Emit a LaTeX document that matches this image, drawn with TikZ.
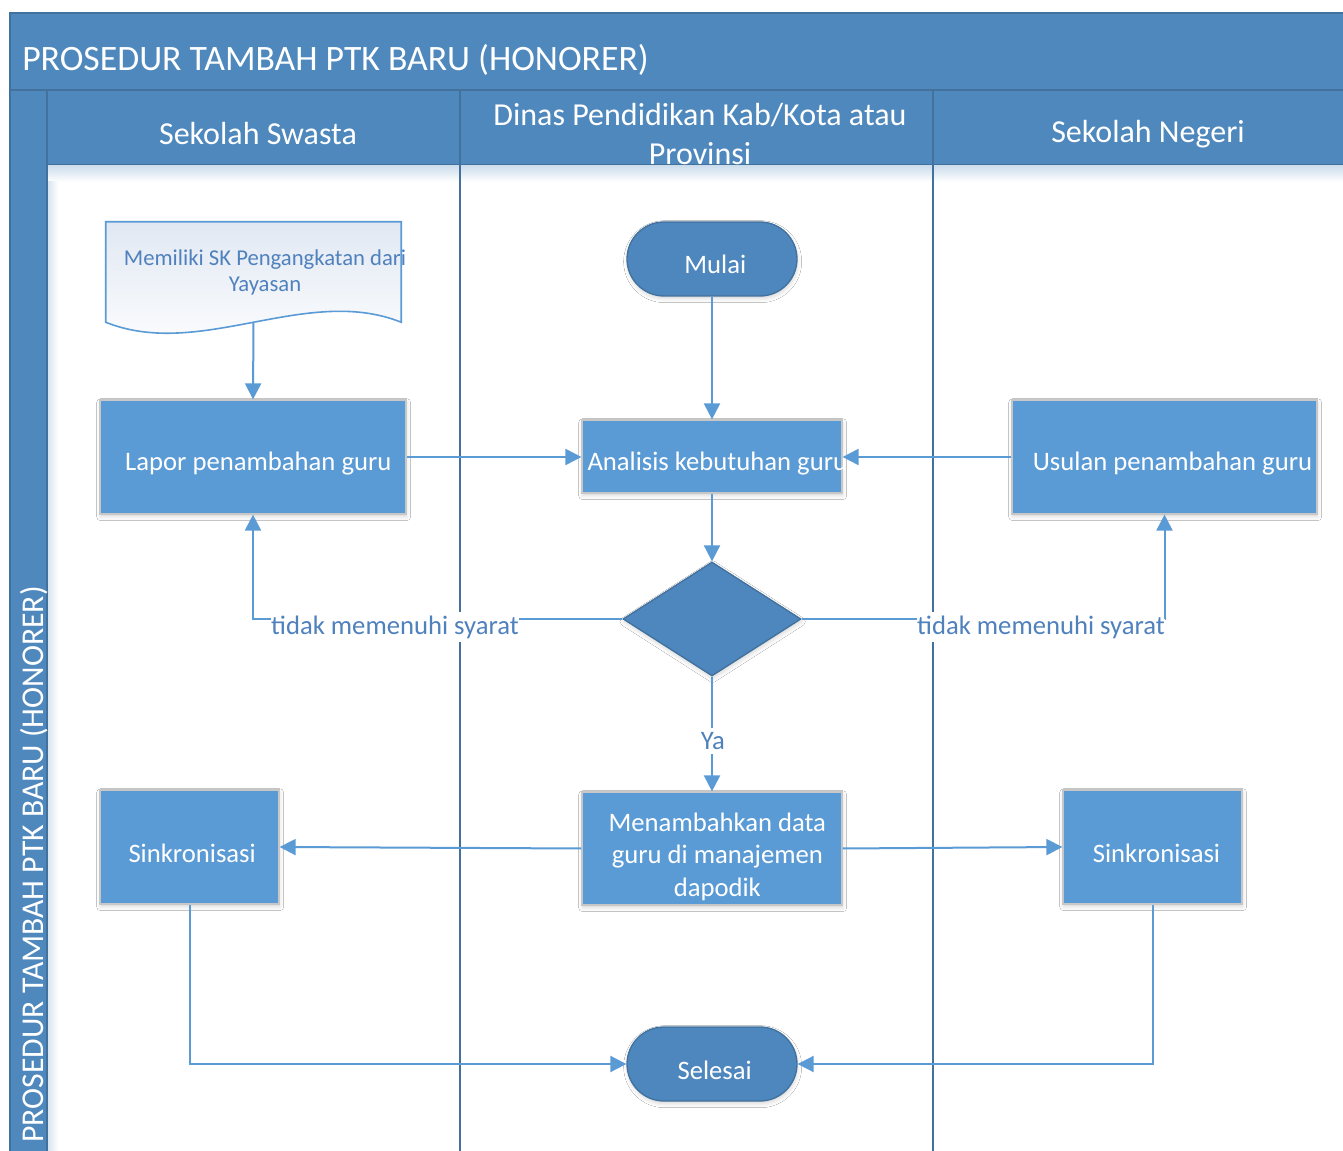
\documentclass[tikz,border=0pt]{standalone}
\usepackage{fontspec}
\setmainfont{Carlito}
\usetikzlibrary{shapes.geometric,shapes.misc,shadows.blur,calc,arrows.meta}

\definecolor{hdrfill}{HTML}{4F88BC}
\definecolor{hdrline}{HTML}{41719C}
\definecolor{boxfill}{HTML}{5B9BD5}
\definecolor{termfill}{HTML}{4E86BE}
\definecolor{linkblue}{HTML}{5B9BD5}
\definecolor{txtblue}{HTML}{4F81BD}
\definecolor{docshade}{HTML}{E1E8F3}

\begin{document}
\begin{tikzpicture}[x=0.75pt,y=-0.75pt,
  softshadow/.style={blur shadow={shadow xshift=0.5pt,shadow yshift=-2pt,
      shadow opacity=16,shadow blur radius=3pt}},
  % box captions sit slightly right of and below the shape centre
  boxtxt/.style={text=white, font=\fontsize{20}{24.4}\selectfont, align=center,
      inner sep=0pt, xshift=4pt, yshift=-5pt},
  procbox/.style={rectangle, fill=boxfill, draw=black!22, line width=0.9pt,
      inner sep=0pt, softshadow},
  termbox/.style={rounded rectangle, fill=termfill, draw=hdrline, line width=1pt,
      inner sep=0pt, minimum width=127.5pt, minimum height=55.5pt, softshadow},
  decbox/.style={diamond, fill=termfill, draw=hdrline, line width=1pt,
      inner sep=0pt, minimum width=133.5pt, minimum height=85.5pt, softshadow},
  lanetitle/.style={text=white, font=\fontsize{24}{29}\selectfont, align=center},
  bigtitle/.style={text=white, font=\fontsize{26.8}{31}\selectfont, inner sep=0pt},
  sidetitle/.style={text=white, font=\fontsize{23.8}{28}\selectfont, inner sep=0pt},
  conn/.style={draw=linkblue, line width=1.5pt,
      -{Triangle[width=12pt,length=12pt]}},
  connplain/.style={draw=linkblue, line width=1.5pt},
  condlabel/.style={fill=white, text=txtblue, font=\fontsize{20}{24}\selectfont,
      inner xsep=0pt, inner ysep=3pt},
]
\useasboundingbox (0,0) rectangle (1343,1151);
\fill[white] (0,0) rectangle (1343,1151);
\begin{scope}
\clip (0,0) rectangle (1343,1151);

% --- pool frame: title band, lane headers, side band
\path[fill=hdrfill, draw=hdrline, line width=1.5pt] (10,13) rectangle (1360,90);
\path[fill=hdrfill, draw=hdrline, line width=1.5pt] (47,90) rectangle (1360,165);
\path[fill=hdrfill, draw=hdrline, line width=1.5pt] (10,90) rectangle (47,1170);
\shade[top color=hdrfill!28, bottom color=white] (48,166) rectangle (1343,182);
\shade[left color=hdrfill!22, right color=white] (48,182) rectangle (58,1151);

% --- lane dividers
\draw[hdrline, line width=1.5pt] (460,90) -- (460,1170);
\draw[hdrline, line width=1.5pt] (933,90) -- (933,1170);

\node[bigtitle, anchor=west] (title) at (22,60) {PROSEDUR TAMBAH PTK BARU (HONORER)};
\node[sidetitle, rotate=90, anchor=east] (side) at (34,586) {PROSEDUR TAMBAH PTK BARU (HONORER)};

\node[lanetitle] (laneA) at (258,134) {Sekolah Swasta};
\node[lanetitle] (laneB) at (700,134) {Dinas Pendidikan Kab/Kota atau\\Provinsi};
\node[lanetitle] (laneC) at (1148,134) {Sekolah Negeri};

% --- document shape
\node[rectangle, inner sep=0pt, minimum width=221.25pt, minimum height=75pt]
  (doc) at (253.5,272) {};
\path[top color=docshade, bottom color=white, draw=linkblue, line width=1.2pt]
  (doc.north west) -- (doc.north east) -- (doc.south east)
  .. controls +(-95,-38) and +(95,38) .. (doc.south west) -- cycle;
\node[text=txtblue, font=\fontsize{17}{19.5}\selectfont, align=center]
  (doctext) at (265,272) {Memiliki SK Pengangkatan dari\\Yayasan};

% --- flow nodes
\node[termbox, label={[boxtxt, xshift=-1.5pt, yshift=1pt]center:Mulai}] (mulai) at (712,259) {};
\node[procbox, minimum width=229.5pt, minimum height=85.5pt,
  label={[boxtxt]center:Lapor penambahan guru}] (lapor) at (253,457) {};
\node[procbox, minimum width=195pt, minimum height=54.75pt,
  label={[boxtxt]center:Analisis kebutuhan guru}] (analisis) at (712,456.5) {};
\node[procbox, minimum width=228.75pt, minimum height=85.5pt,
  label={[boxtxt, xshift=2pt]center:Usulan penambahan guru}] (usulan) at (1164.5,457) {};
\node[decbox] (dec) at (712,619) {};
\node[procbox, minimum width=195pt, minimum height=84.75pt,
  label={[boxtxt, yshift=-1pt]center:{Menambahkan data\\guru di manajemen\\dapodik}}] (tambah) at (712,848.5) {};
\node[procbox, minimum width=134.25pt, minimum height=85.5pt,
  label={[boxtxt, xshift=-2pt]center:Sinkronisasi}] (sinkA) at (189.5,847) {};
\node[procbox, minimum width=134.25pt, minimum height=85.5pt,
  label={[boxtxt, xshift=-1pt]center:Sinkronisasi}] (sinkC) at (1152.5,847) {};
\node[termbox, label={[boxtxt, xshift=-2pt]center:Selesai}] (selesai) at (712,1064) {};

% --- connectors
\draw[conn] (doc.south) -- (lapor.north);
\draw[conn] (mulai.south) -- (analisis.north);
\draw[conn] (lapor.east) -- (lapor.east -| analisis.west);
\draw[conn] (usulan.west) -- (usulan.west -| analisis.east);
\draw[conn] (analisis.south) -- (dec.north);
\draw[conn] (dec.west) -| (lapor.south);
\draw[conn] (dec.east) -| (usulan.south);
\draw[conn] (dec.south) -- (tambah.north);
\draw[conn] (tambah.west) -- (sinkA.east);
\draw[conn] (tambah.east) -- (sinkC.west);
\draw[conn] (sinkA.south) |- (selesai.west);
\draw[conn] (sinkC.south) |- (selesai.east);

% --- condition labels
\node[condlabel] (noA) at (395,627) {tidak memenuhi syarat};
\node[condlabel] (noC) at (1041,627) {tidak memenuhi syarat};
\node[condlabel, inner xsep=2pt] (yes) at (713,741) {Ya};
\coordinate (cornerC) at (dec.east -| usulan.south);
\draw[connplain] (cornerC) -- ($(cornerC)+(0,-30)$);
\end{scope}
\end{tikzpicture}
\end{document}
